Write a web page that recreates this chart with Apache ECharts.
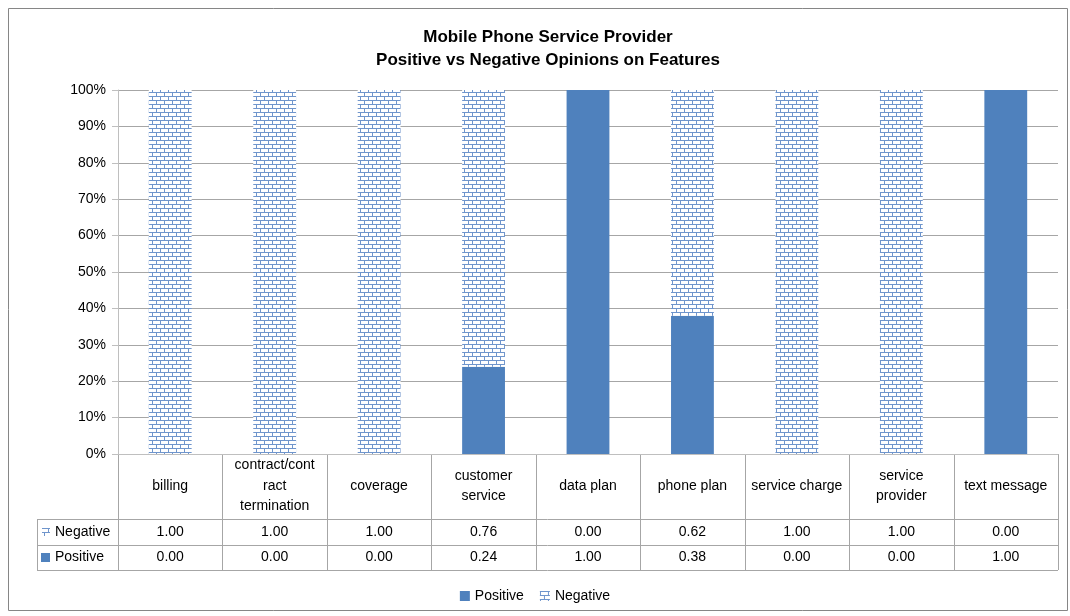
<!DOCTYPE html>
<html>
<head>
<meta charset="utf-8">
<title>Mobile Phone Service Provider</title>
<script src="https://cdn.jsdelivr.net/npm/echarts@6/dist/echarts.min.js"></script>
<style>
  html, body { margin: 0; padding: 0; background: #ffffff; }
  #chart { width: 1070px; height: 616px; }
</style>
</head>
<body>
<div id="chart"></div>
<script>
// Features and their share of positive / negative opinions
const categories = ['billing', 'contract/contract termination', 'coverage', 'customer service',
  'data plan', 'phone plan', 'service charge', 'service provider', 'text message'];
const categoryLabels = ['billing', 'contract/cont\nract\ntermination', 'coverage', 'customer\nservice',
  'data plan', 'phone plan', 'service charge', 'service\nprovider', 'text message'];
const positiveValues = [0.00, 0.00, 0.00, 0.24, 1.00, 0.38, 0.00, 0.00, 1.00];
const negativeValues = [1.00, 1.00, 1.00, 0.76, 0.00, 0.62, 1.00, 1.00, 0.00];
const yTicks = [0, 0.1, 0.2, 0.3, 0.4, 0.5, 0.6, 0.7, 0.8, 0.9, 1.0];

const BLUE = '#4f81bd';
const FONT = "'Liberation Sans', Arial, sans-serif";

// Brick hatch used for the Negative series
function brickPattern() {
  const c = document.createElement('canvas');
  c.width = 8; c.height = 8;
  const g = c.getContext('2d');
  g.fillStyle = '#ffffff';
  g.fillRect(0, 0, 8, 8);
  g.fillStyle = '#6f95cc';
  g.fillRect(0, 0, 8, 1);
  g.fillRect(0, 4, 8, 1);
  g.fillRect(0, 1, 1, 3);
  g.fillRect(4, 5, 1, 3);
  return c;
}
const brick = brickPattern();
const brickFill = { image: brick, repeat: 'repeat' };

const chart = echarts.init(document.getElementById('chart'), null, { renderer: 'canvas' });

function tableAxis(formatter, margin, lineHeight) {
  return {
    type: 'category',
    data: categories,
    gridIndex: 0,
    position: 'bottom',
    axisLine: { show: false },
    axisTick: { show: false },
    splitLine: { show: false },
    axisLabel: {
      interval: 0,
      margin: margin,
      verticalAlign: 'middle',
      lineHeight: lineHeight,
      color: '#000000',
      fontFamily: FONT,
      fontSize: 14,
      formatter: formatter
    }
  };
}

const option = {
  animation: false,
  backgroundColor: '#ffffff',
  title: {
    text: 'Mobile Phone Service Provider\nPositive vs Negative Opinions on Features',
    left: 543,
    top: 21,
    textAlign: 'center',
    textStyle: { fontFamily: FONT, fontSize: 17, fontWeight: 'bold', color: '#000000', lineHeight: 23 }
  },
  legend: {
    data: ['Positive', 'Negative'],
    left: 'center',
    top: 584,
    itemWidth: 10,
    itemHeight: 10,
    itemGap: 16,
    icon: 'rect',
    textStyle: { fontFamily: FONT, fontSize: 14, color: '#000000' }
  },
  grid: { left: 118, right: 12, top: 90, bottom: 162, containLabel: false },
  xAxis: [
    {
      type: 'category',
      data: categories,
      axisLine: { show: true, lineStyle: { color: '#bfbfbf' } },
      axisTick: { show: false },
      axisLabel: { show: false },
      splitLine: { show: false }
    },
    tableAxis((v, i) => categoryLabels[i], 32, 20.5),
    tableAxis((v, i) => negativeValues[i].toFixed(2), 78, 16),
    tableAxis((v, i) => positiveValues[i].toFixed(2), 103.5, 16)
  ],
  yAxis: {
    type: 'value',
    min: 0,
    max: 1,
    interval: 0.1,
    axisLine: { show: true, lineStyle: { color: '#bfbfbf' } },
    axisTick: { show: true, length: 6, lineStyle: { color: '#bfbfbf' } },
    splitLine: { show: true, lineStyle: { color: '#a6a6a6', width: 1 } },
    axisLabel: {
      margin: 12,
      color: '#000000',
      fontFamily: FONT,
      fontSize: 14,
      formatter: v => Math.round(v * 100) + '%'
    }
  },
  series: [
    {
      name: 'Positive',
      type: 'bar',
      stack: 'opinion',
      xAxisIndex: 0,
      barWidth: '41%',
      data: positiveValues,
      itemStyle: { color: BLUE }
    },
    {
      name: 'Negative',
      type: 'bar',
      stack: 'opinion',
      xAxisIndex: 0,
      barWidth: '41%',
      data: negativeValues,
      itemStyle: { color: brickFill }
    }
  ]
};

chart.setOption(option);

// Data-table grid under the plot, placed from the category axis geometry
function drawTable() {
  const c0 = chart.convertToPixel({ xAxisIndex: 0 }, categories[0]);
  const c1 = chart.convertToPixel({ xAxisIndex: 0 }, categories[1]);
  const band = c1 - c0;
  const left = c0 - band / 2;
  const right = left + band * categories.length;
  const y0 = chart.convertToPixel({ yAxisIndex: 0 }, 0);
  const headerBottom = y0 + 65;
  const negBottom = y0 + 91;
  const posBottom = y0 + 116;
  const legendLeft = left - 81;
  const lineStyle = { stroke: '#a6a6a6', lineWidth: 1 };
  const els = [];
  const snap = v => Math.round(v) + 0.5;

  // vertical lines between categories
  for (let i = 0; i <= categories.length; i++) {
    const x = snap(left + band * i);
    els.push({ type: 'line', shape: { x1: x, y1: y0, x2: x, y2: posBottom }, style: lineStyle, silent: true });
  }
  // left column edge for the series rows
  els.push({ type: 'line', shape: { x1: snap(legendLeft), y1: headerBottom, x2: snap(legendLeft), y2: posBottom }, style: lineStyle, silent: true });
  // horizontal row lines
  [headerBottom, negBottom, posBottom].forEach(y => {
    els.push({ type: 'line', shape: { x1: legendLeft, y1: snap(y), x2: right, y2: snap(y) }, style: lineStyle, silent: true });
  });
  // row keys
  els.push({ type: 'rect', shape: { x: legendLeft + 5, y: (headerBottom + negBottom) / 2 - 4, width: 8, height: 8 }, style: { fill: brickFill }, silent: true });
  els.push({ type: 'text', x: legendLeft + 18, y: (headerBottom + negBottom) / 2, style: { text: 'Negative', fontFamily: FONT, fontSize: 14, fill: '#000000', verticalAlign: 'middle' }, silent: true });
  els.push({ type: 'rect', shape: { x: legendLeft + 4, y: (negBottom + posBottom) / 2 - 4.5, width: 9, height: 9 }, style: { fill: BLUE }, silent: true });
  els.push({ type: 'text', x: legendLeft + 18, y: (negBottom + posBottom) / 2, style: { text: 'Positive', fontFamily: FONT, fontSize: 14, fill: '#000000', verticalAlign: 'middle' }, silent: true });
  // chart frame
  els.push({ type: 'rect', shape: { x: 8.5, y: 8.5, width: 1059, height: 602 }, style: { fill: 'none', stroke: '#868686', lineWidth: 1 }, silent: true, z: 100 });

  chart.setOption({ graphic: { elements: els } });
}
drawTable();
</script>
</body>
</html>
